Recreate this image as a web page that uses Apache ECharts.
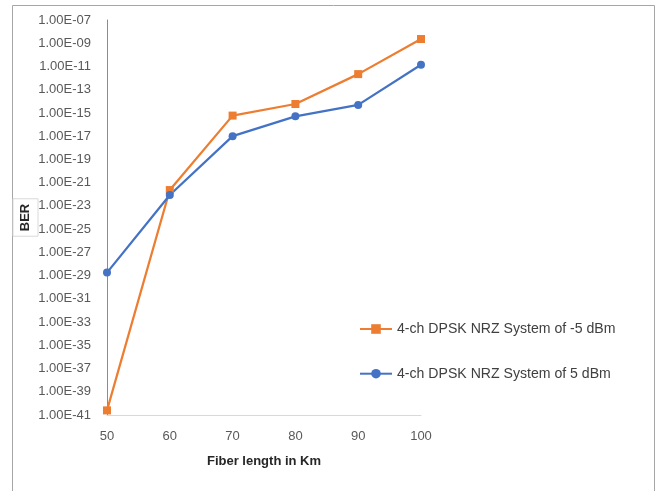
<!DOCTYPE html>
<html>
<head>
<meta charset="utf-8">
<script src="https://cdn.jsdelivr.net/npm/echarts@6/dist/echarts.min.js"></script>
<style>
  html, body { margin: 0; padding: 0; background: #fff; }
  #lineChart { width: 659px; height: 491px; }
</style>
</head>
<body>
<div id="lineChart"></div>
<script>
// x轴 光纤长度
const fiberLength = ['50', '60', '70', '80', '90', '100']
// BER 数据
const berMinus5 = [2.5e-41, 2.3e-22, 5.9e-16, 5.9e-15, 2.2e-12, 2.3e-9]
const berPlus5 = [1.8e-29, 8.7e-23, 1.0e-17, 5.1e-16, 4.9e-15, 1.4e-11]
const seriesNames = ['4-ch DPSK NRZ System of -5 dBm', '4-ch DPSK NRZ System of 5 dBm']

const fontFam = '"Liberation Sans", Arial, sans-serif'

// y轴按 10 的指数刻度（对数坐标）
const toExp = (arr) => arr.map(v => Math.log10(v))
const sciLabel = (e) => {
  const n = Math.round(e)
  return '1.00E' + (n < 0 ? '-' : '+') + String(Math.abs(n)).padStart(2, '0')
}

const myChart = echarts.init(document.getElementById('lineChart'))
const option = {
  animation: false,
  textStyle: { fontFamily: fontFam },
  graphic: [
    { // 外边框
      type: 'rect',
      shape: { x: 12.5, y: 5.5, width: 642, height: 500 },
      style: { fill: 'none', stroke: '#a6a6a6', lineWidth: 1 },
      silent: true
    }
  ],
  grid: { left: 107, right: 238, top: 20, bottom: 76 },
  legend: {
    orient: 'vertical',
    left: 359,
    top: 322,
    padding: 0,
    itemWidth: 32,
    itemHeight: 12,
    itemGap: 30.7,
    textStyle: { fontSize: 14.1, color: '#404040', fontFamily: fontFam },
    data: seriesNames
  },
  xAxis: {
    type: 'category',
    boundaryGap: false,
    data: fiberLength,
    name: 'Fiber length in Km',
    nameLocation: 'middle',
    nameGap: 40,
    nameTextStyle: { fontSize: 13, fontWeight: 'bold', color: '#262626' },
    axisLine: { lineStyle: { color: '#d9d9d9', width: 1 } },
    axisTick: { show: false },
    axisLabel: { fontSize: 13, color: '#595959', margin: 15 },
    splitLine: { show: false }
  },
  yAxis: {
    type: 'value',
    min: -41,
    max: -7,
    interval: 2,
    name: 'BER',
    nameLocation: 'middle',
    nameGap: 69,
    nameMoveOverlap: false,
    nameRotate: 90,
    nameTextStyle: {
      fontSize: 13, fontWeight: 'bold', color: '#262626',
      borderColor: '#d9d9d9', borderWidth: 1, padding: [6, 5, 6, 5]
    },
    axisLine: { show: true, lineStyle: { color: '#8c8c8c', width: 1 } },
    axisTick: { show: false },
    axisLabel: { fontSize: 13, color: '#595959', margin: 16, formatter: sciLabel },
    splitLine: { show: false }
  },
  series: [
    {
      name: seriesNames[0],
      type: 'line',
      data: toExp(berMinus5),
      symbol: 'rect',
      symbolSize: 8,
      lineStyle: { width: 2.25, color: '#ed7d31' },
      itemStyle: { color: '#ed7d31' }
    },
    {
      name: seriesNames[1],
      type: 'line',
      data: toExp(berPlus5),
      symbol: 'circle',
      symbolSize: 8,
      lineStyle: { width: 2.25, color: '#4472c4' },
      itemStyle: { color: '#4472c4' }
    }
  ]
}
myChart.setOption(option)
</script>
</body>
</html>
